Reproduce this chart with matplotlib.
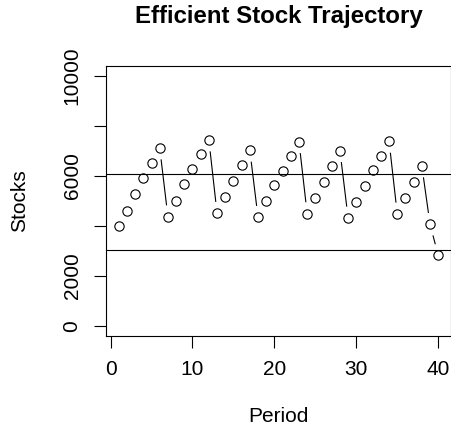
import numpy as np
import matplotlib
matplotlib.use('Agg')
import matplotlib.pyplot as plt

plt.rcParams['font.family'] = ['Liberation Sans', 'DejaVu Sans']

# Datos
periodos = list(range(1, 41))
stocks = [4000, 4613, 5267, 5907, 6533, 7120, 4373, 5013, 5667, 6280,
          6867, 7440, 4507, 5160, 5800, 6427, 7027, 4347, 4987, 5627,
          6200, 6787, 7373, 4493, 5133, 5773, 6400, 7013, 4320, 4960,
          5600, 6240, 6813, 7387, 4480, 5133, 5760, 6400, 4067, 2827]
niveles_ref = [6080, 3040]
yticks = [0, 2000, 4000, 6000, 8000, 10000]
ytick_labels = ['0', '2000', '', '6000', '', '10000']
xticks = [0, 10, 20, 30, 40]

DPI = 100
fig = plt.figure(figsize=(4.52, 4.37), dpi=DPI)
ax = fig.add_axes([0.2345, 0.2311, 0.7633, 0.6179])

x = np.array(periodos, dtype=float)
y = np.array(stocks, dtype=float)
ax.set_xlim(-0.56, 41.56)
ax.set_ylim(-400, 10400)

# puntos abiertos (como pch=1 de R)
ax.plot(x, y, linestyle='none', marker='o', markersize=6.7,
        markerfacecolor='white', markeredgecolor='black', markeredgewidth=0.8)

# líneas con hueco alrededor de los puntos (type="b")
gap = 12.0
pix = ax.transData.transform(np.column_stack([x, y]))
inv = ax.transData.inverted()
for i in range(len(pix) - 1):
    p0, p1 = pix[i], pix[i + 1]
    d = np.hypot(*(p1 - p0))
    if d > 2 * gap:
        u = (p1 - p0) / d
        a = inv.transform(p0 + u * gap)
        b = inv.transform(p1 - u * gap)
        ax.plot([a[0], b[0]], [a[1], b[1]], color='black', linewidth=0.8)

for nivel in niveles_ref:
    ax.axhline(nivel, color='black', linewidth=0.8)

ax.set_xticks(xticks)
ax.set_xticklabels([str(t) for t in xticks], fontsize=15)
ax.set_yticks(yticks)
ax.set_yticklabels(ytick_labels, fontsize=15, rotation=90, va='center')
ax.tick_params(direction='out', length=8.6, width=0.8, pad=9)
for s in ax.spines.values():
    s.set_linewidth(0.8)

ax.set_title('Efficient Stock Trajectory', fontsize=17.3, fontweight='bold', pad=31)
ax.set_xlabel('Period', fontsize=15, labelpad=20)
ax.set_ylabel('Stocks', fontsize=15, labelpad=24)

fig.savefig('out.png', dpi=DPI)
